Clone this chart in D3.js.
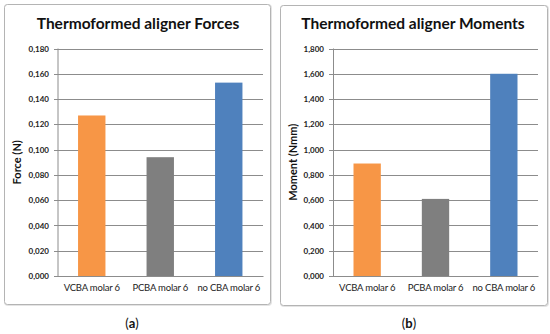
<!DOCTYPE html>
<html>
<head>
<meta charset="utf-8">
<script src="https://cdn.jsdelivr.net/npm/d3@7"></script>
<style>
  body { margin: 0; background: #fff; }
  svg { display: block; }
  text { font-family: Lato, "Open Sans", sans-serif; }
</style>
</head>
<body>
<div id="content"></div>
<script>
// chart data
var categories = ["VCBA molar 6", "PCBA molar 6", "no CBA molar 6"],
    forceValues = [0.127, 0.094, 0.153],
    momentValues = [0.89, 0.61, 1.60],
    forceTicks = [0, 0.02, 0.04, 0.06, 0.08, 0.10, 0.12, 0.14, 0.16, 0.18],
    momentTicks = [0, 0.2, 0.4, 0.6, 0.8, 1.0, 1.2, 1.4, 1.6, 1.8],
    barColors = ["#f79646", "#7f7f7f", "#4f81bd"],
    titles = ["Thermoformed aligner Forces", "Thermoformed aligner Moments"],
    yTitles = ["Force (N)", "Moment (Nmm)"],
    panelLabels = ["a", "b"];

var width = 550,
    height = 334,
    // european decimal comma
    fmt = d3.formatLocale({decimal: ",", thousands: ".", grouping: [3], currency: ["", ""]}).format(".3f");

var svg = d3.select('#content').append('svg')
    .attr('width', width)
    .attr('height', height);

var panels = [
    {x: 4, y: 4, w: 266, h: 300, plotL: 57.5, plotR: 263, values: forceValues, ticks: forceTicks, tickX: 49, yTitleX: 21, titleX: 138, labX: 132},
    {x: 280, y: 5, w: 267, h: 300, plotL: 333, plotR: 538, values: momentValues, ticks: momentTicks, tickX: 324, yTitleX: 297, titleX: 413, labX: 409}
];

panels.forEach(function(p, i){
    var g = svg.append('g');
    var top = 48.5, bottom = 276;

    // frame with a faint shadow
    g.append('rect')
        .attr('x', p.x + 1).attr('y', p.y + 1)
        .attr('width', p.w).attr('height', p.h)
        .attr('rx', 3)
        .attr('fill', 'none')
        .attr('stroke', '#e4e4e4')
        .attr('stroke-width', 2);
    g.append('rect')
        .attr('x', p.x + 0.5).attr('y', p.y + 0.5)
        .attr('width', p.w).attr('height', p.h)
        .attr('rx', 3)
        .attr('fill', '#fff')
        .attr('stroke', '#b4b4b4');

    var xScale = d3.scaleBand().domain(categories).range([p.plotL, p.plotR]).paddingInner(0.6).paddingOuter(0.3);
    var yScale = d3.scaleLinear().domain([0, d3.max(p.ticks)]).range([bottom, top]);

    // gridlines + y axis
    var yAxis = d3.axisLeft(yScale)
        .tickValues(p.ticks)
        .tickSize(-(p.plotR - p.plotL))
        .tickFormat(fmt);
    var ya = g.append('g')
        .attr('transform', 'translate(' + p.plotL + ',0)')
        .call(yAxis);
    ya.select('.domain').attr('stroke', '#8c8c8c').attr('d', 'M0.5,' + top + 'V' + bottom);
    ya.selectAll('.tick line').attr('stroke', '#8c8c8c').attr('x1', -4).attr('shape-rendering', 'crispEdges');
    ya.selectAll('.tick text')
        .attr('x', p.tickX - p.plotL)
        .attr('font-size', 8)
        .attr('font-weight', 'bold')
        .attr('fill', '#222');

    // bars
    g.selectAll('rect.bar')
        .data(p.values)
        .enter()
        .append('rect')
        .attr('class', 'bar')
        .attr('x', function(d, j){ return xScale(categories[j]); })
        .attr('width', xScale.bandwidth())
        .attr('y', function(d){ return yScale(d); })
        .attr('height', function(d){ return yScale(0) - yScale(d); })
        .attr('fill', function(d, j){ return barColors[j]; });

    // x axis
    var xAxis = d3.axisBottom(xScale).tickSize(0).tickPadding(8);
    var xa = g.append('g')
        .attr('transform', 'translate(0,' + bottom + ')')
        .call(xAxis);
    xa.select('.domain').attr('stroke', '#8c8c8c');
    xa.selectAll('.tick text')
        .attr('font-size', 9.5)
        .attr('letter-spacing', -0.2)
        .attr('fill', '#222');

    // titles
    g.append('text')
        .attr('x', p.titleX)
        .attr('y', 29)
        .attr('text-anchor', 'middle')
        .attr('font-size', 15.5)
        .attr('font-weight', 'bold')
        .attr('fill', '#111')
        .text(titles[i]);

    g.append('text')
        .attr('transform', 'translate(' + p.yTitleX + ',' + ((top + bottom) / 2) + ') rotate(-90)')
        .attr('text-anchor', 'middle')
        .attr('font-size', 11)
        .attr('font-weight', 'bold')
        .attr('fill', '#111')
        .text(yTitles[i]);

    // (a) / (b)
    var lab = g.append('text')
        .attr('x', p.labX)
        .attr('y', 328)
        .attr('text-anchor', 'middle')
        .attr('font-family', '"DejaVu Serif", "Liberation Serif", serif')
        .attr('font-size', 13)
        .attr('fill', '#111');
    lab.append('tspan').text('(');
    lab.append('tspan').attr('font-weight', 'bold').text(panelLabels[i]);
    lab.append('tspan').text(')');
});
</script>
</body>
</html>
